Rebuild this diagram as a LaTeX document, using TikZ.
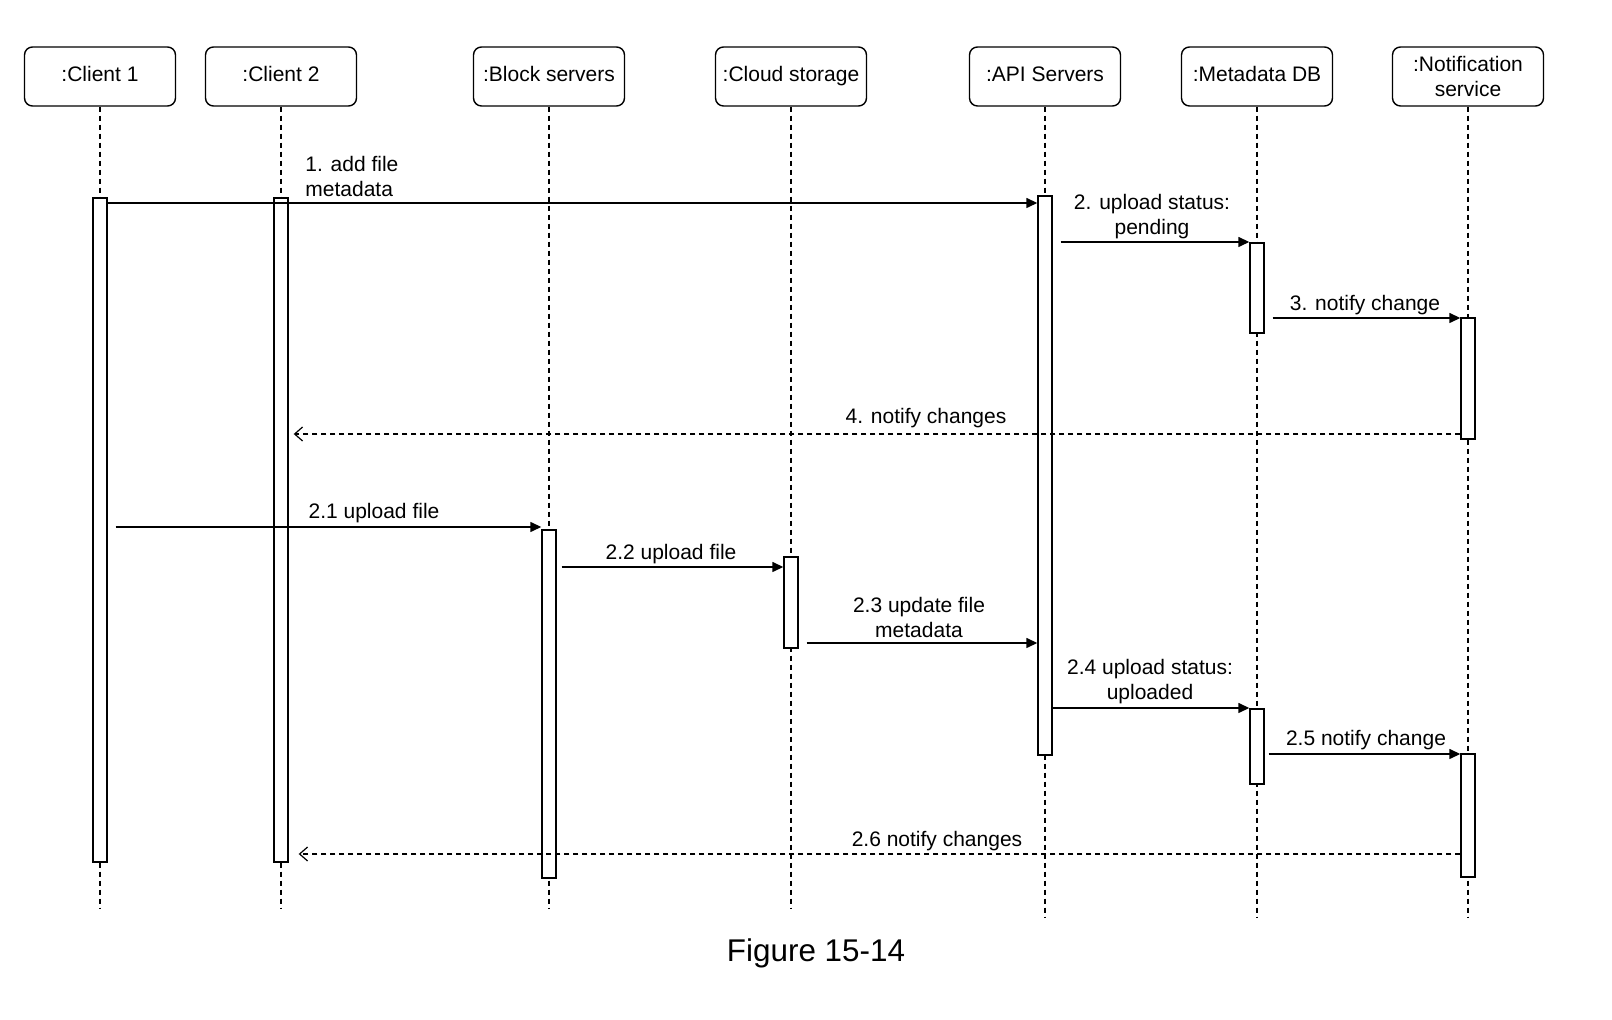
\documentclass[tikz,border=0pt]{standalone}
\usepackage{fontspec}
\setmainfont{Liberation Sans}
\usetikzlibrary{arrows.meta,calc}
\newcommand\lblfont{\fontsize{10.5}{12.5}\selectfont}
\newcommand\capfont{\fontsize{15.7}{18}\selectfont}
\begin{document}
\begin{tikzpicture}[x=0.5pt,y=-0.5pt,
  hdr/.style={draw, rounded corners=4pt, line width=0.7pt, minimum width=75.5pt, minimum height=29.5pt, inner sep=0pt, align=center, font=\lblfont},
  hdrone/.style={hdr, text height=0.72em, text depth=0.21em},
  life/.style={line width=0.55pt, dash pattern=on 2.5pt off 2pt},
  act/.style={draw, fill=white, line width=0.7pt, minimum width=7pt, inner sep=0pt},
  msg/.style={line width=0.7pt, -{Triangle[length=5.5pt,width=5pt]}},
  ret/.style={line width=0.6pt, dash pattern=on 2.5pt off 2pt, -{Straight Barb[length=4pt,width=7pt]}},
  lbl/.style={font=\lblfont, inner sep=0pt, align=center}
]
\fill[white] (0,0) rectangle (1612,1020);
\useasboundingbox (0,0) rectangle (1612,1020);

% headers
\node[hdrone] (c1)  at (100,76.5)  {:Client 1};
\node[hdrone] (c2)  at (281,76.5)  {:Client 2};
\node[hdrone] (bs)  at (549,76.5)  {:Block servers};
\node[hdrone] (cs)  at (791,76.5)  {:Cloud storage};
\node[hdrone] (api) at (1045,76.5) {:API Servers};
\node[hdrone] (mdb) at (1257,76.5) {:Metadata DB};
\node[hdr] (ns)  at (1468,76.5) {:Notification\\service};

% lifeline ends
\coordinate (c1e)  at (100,908);
\coordinate (c2e)  at (281,908);
\coordinate (bse)  at (549,908);
\coordinate (cse)  at (791,908);
\coordinate (apie) at (1045,918);
\coordinate (mdbe) at (1257,918);
\coordinate (nse)  at (1468,918);

\draw[life] (c1) -- (c1e);
\draw[life] (c2) -- (c2e);
\draw[life] (bs) -- (bse);
\draw[life] (cs) -- (cse);
\draw[life] (api) -- (apie);
\draw[life] (mdb) -- (mdbe);
\draw[life] (ns) -- (nse);

% activation bars
\node[act, minimum height=332pt]   (c1a)  at (100,530) {};
\node[act, minimum height=332pt]   (c2a)  at (281,530) {};
\node[act, minimum height=279.5pt] (apia) at (1045,475.5) {};
\node[act, minimum height=45pt]    (mdba) at (1257,288) {};
\node[act, minimum height=60.5pt]  (nsa)  at (1468,378.5) {};
\node[act, minimum height=174pt]   (bsa)  at (549,704) {};
\node[act, minimum height=45.5pt]  (csa)  at (791,602.5) {};
\node[act, minimum height=37.5pt]  (mdbb) at (1257,746.5) {};
\node[act, minimum height=61.5pt]  (nsb)  at (1468,815.5) {};

% messages
\draw[msg] (c1a.east |- 0,203) -- (apia.west |- 0,203);
\draw[msg] ($(apia.east |- 0,242)+(8,0)$) -- (mdba.west |- 0,242);
\draw[msg] ($(mdba.east |- 0,318)+(8,0)$) -- (nsa.west |- 0,318);
\draw[ret] (nsa.west |- 0,434) -- ($(c2a.east |- 0,434)+(5,0)$);
\draw[msg] ($(c1a.east |- 0,527)+(8,0)$) -- (bsa.west |- 0,527);
\draw[msg] ($(bsa.east |- 0,567)+(5,0)$) -- (csa.west |- 0,567);
\draw[msg] ($(csa.east |- 0,643)+(8,0)$) -- (apia.west |- 0,643);
\draw[msg] (apia.east |- 0,708) -- (mdbb.west |- 0,708);
\draw[msg] ($(mdbb.east |- 0,754)+(4,0)$) -- (nsb.west |- 0,754);
\draw[ret] (nsb.west |- 0,854) -- ($(c2a.east |- 0,854)+(10,0)$);

% labels
\node[lbl, align=left, anchor=west] (l1) at (305,177) {1. add file\\metadata};
\node[lbl] (l2)  at (1152,217) {2. upload status:\\pending};
\node[lbl, anchor=base] (l3)  at (1365,310.5) {3. notify change};
\node[lbl, anchor=base] (l4)  at (926,423.5) {4. notify changes};
\node[lbl, anchor=base] (l21) at (374,518.5) {2.1 upload file};
\node[lbl, anchor=base] (l22) at (671,559.5) {2.2 upload file};
\node[lbl] (l23) at (919,617.5) {2.3 update file\\metadata};
\node[lbl] (l24) at (1150,681.5) {2.4 upload status:\\uploaded};
\node[lbl, anchor=base] (l25) at (1366,745.5) {2.5 notify change};
\node[lbl, anchor=base] (l26) at (937,846.5) {2.6 notify changes};

\node[font=\capfont, inner sep=0pt, anchor=base] (cap) at (816,961) {Figure 15-14};
\end{tikzpicture}
\end{document}
